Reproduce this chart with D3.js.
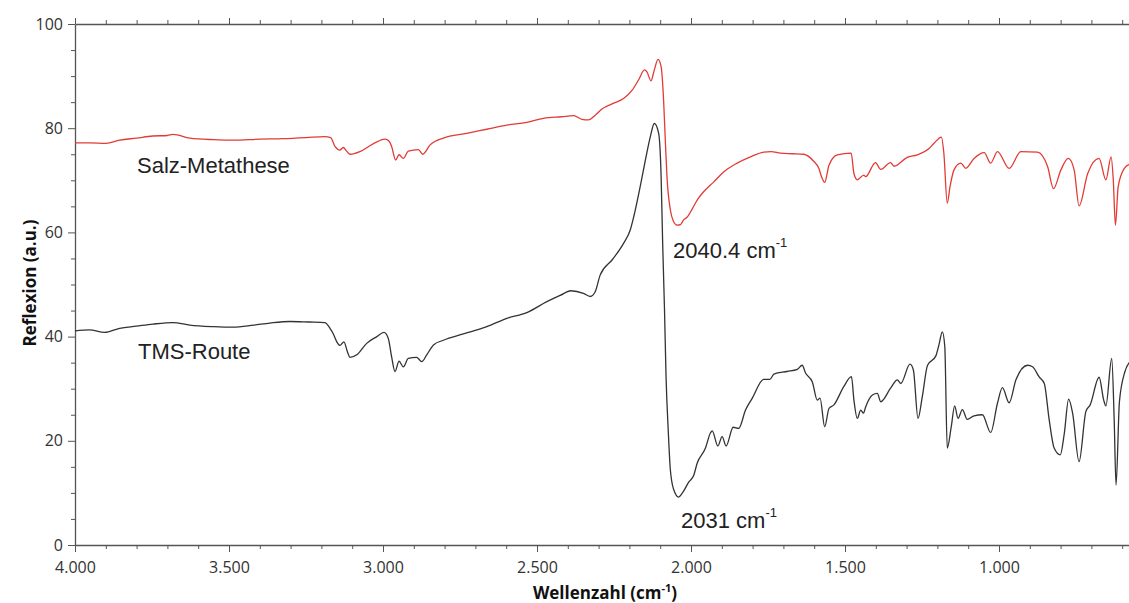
<!DOCTYPE html>
<html>
<head>
<meta charset="utf-8">
<script src="https://cdn.jsdelivr.net/npm/d3@7"></script>
<style>
  html, body { margin: 0; padding: 0; background: #fff; }
  svg { display: block; }
</style>
</head>
<body>
<svg id="chart" width="1129" height="603"></svg>
<script>
// ---- Data ----
const salzWavenumber = [4000,3950,3900,3855,3800,3748,3700,3682,3627,3550,3487,3400,3325,3250,3189,3170,3156,3140,3129,3118,3107,3075,3032,2993,2980,2972,2959,2948,2934,2918,2885,2871,2847,2804,2728,2663,2598,2533,2479,2420,2381,2354,2333,2311,2289,2251,2219,2191,2170,2151,2143,2130,2119,2107,2097,2089,2083,2078,2067,2058,2045,2034,2024,2013,1995,1980,1959,1937,1926,1894,1850,1807,1764,1740,1709,1670,1634,1601,1585,1575,1566,1552,1525,1480,1471,1460,1439,1433,1401,1384,1352,1341,1298,1265,1227,1211,1187,1179,1168,1159,1146,1124,1108,1081,1048,1027,1005,967,929,875,842,823,799,775,756,740,712,675,653,636,629,622,613,593,575];
const salzReflexion = [77.2,77.2,77.1,77.7,78.1,78.5,78.6,78.8,78.1,77.8,77.7,77.9,78.0,78.2,78.4,78.2,76.5,75.8,76.3,75.6,75.0,75.5,77.0,77.9,77.5,76.5,73.9,74.9,74.2,75.6,75.9,75.0,76.8,78.1,79.0,79.8,80.6,81.1,81.9,82.2,82.4,81.7,81.6,82.5,83.7,84.8,85.7,87.3,89.3,91.2,90.8,89.1,91.2,93.2,91.8,85.4,77.1,70.7,64.3,62.3,61.4,61.5,62.4,62.9,64.6,66.2,67.8,69.1,69.7,71.6,73.3,74.5,75.4,75.5,75.2,75.1,75.0,73.6,72.3,70.5,69.6,72.9,74.9,75.2,71.3,70.1,71.0,70.7,73.4,72.1,73.4,72.7,74.4,74.9,76.1,77.1,78.3,75.2,65.6,68.8,72.0,73.3,72.3,74.2,75.3,73.3,75.5,72.3,75.5,75.4,72.6,68.4,72.0,74.2,72.0,65.1,71.3,74.2,70.1,74.5,70.1,61.4,68.8,72.3,73.1];

const tmsWavenumber = [4000,3953,3904,3855,3801,3747,3682,3627,3550,3487,3420,3367,3302,3240,3189,3172,3162,3150,3140,3127,3115,3107,3085,3053,3020,2997,2983,2972,2961,2948,2934,2918,2891,2874,2858,2836,2804,2739,2663,2598,2533,2468,2425,2390,2349,2327,2311,2295,2255,2219,2197,2186,2165,2148,2132,2119,2105,2097,2092,2086,2081,2074,2067,2056,2040,2029,2007,1991,1980,1953,1937,1931,1913,1899,1886,1863,1845,1823,1801,1764,1744,1731,1688,1655,1639,1628,1606,1590,1581,1566,1552,1536,1504,1479,1471,1460,1449,1440,1433,1411,1395,1384,1352,1330,1319,1289,1278,1263,1249,1232,1205,1195,1184,1176,1168,1155,1144,1133,1119,1103,1081,1054,1027,1005,989,967,945,907,891,869,853,837,821,801,788,774,761,740,718,704,675,660,653,634,626,620,609,591,575];
const tmsReflexion = [41.1,41.3,40.8,41.6,42.0,42.4,42.7,42.2,41.9,41.8,42.2,42.6,42.9,42.8,42.7,41.6,40.6,39.0,38.3,39.0,37.0,36.0,36.5,38.7,40.0,40.8,39.7,36.1,33.3,35.3,34.2,35.8,36.0,35.2,36.5,38.4,39.3,40.5,41.9,43.5,44.6,46.7,47.9,48.8,48.3,47.7,48.6,51.8,54.8,57.9,60.5,63.0,68.8,73.9,78.4,80.9,79.0,70.7,57.9,45.1,32.3,22.1,14.4,10.6,9.2,9.9,12.1,13.4,15.7,18.6,21.5,21.9,19.0,20.8,19.0,22.6,22.4,25.9,28.2,31.8,31.8,32.8,33.3,33.7,34.5,33.0,31.3,27.8,28.2,22.7,26.2,26.9,30.4,32.3,27.8,24.3,25.9,25.3,26.5,28.8,29.1,27.5,30.1,31.7,31.0,34.7,33.6,24.3,28.5,34.5,36.3,38.4,40.9,38.1,18.6,22.7,26.7,24.3,26.0,24.1,24.8,25.0,21.6,27.2,30.2,27.3,31.7,34.5,34.2,32.2,31.0,24.0,18.6,17.3,21.4,28.0,25.3,16.0,25.6,26.9,32.2,27.8,26.7,35.8,24.0,11.5,27.5,33.3,35.2];

const xMajorTicks = [4000,3500,3000,2500,2000,1500,1000];
const xMinorTicks = d3.range(4000, 550, -100).filter(v => v % 500 !== 0);
const yMajorTicks = [0,20,40,60,80,100];
const yMinorTicks = d3.range(0, 101, 5).filter(v => v % 20 !== 0);

const seriesLabels = ["Salz-Metathese", "TMS-Route"];
const peakLabels = ["2040.4 cm", "2031 cm"];
const xTitle = "Wellenzahl (cm";
const yTitle = "Reflexion (a.u.)";

// ---- Layout ----
const svg = d3.select("#chart");
const x = d3.scaleLinear().domain([4000, 500]).range([75, 75 + 3500 * 0.308]);
const y = d3.scaleLinear().domain([0, 100]).range([545, 24]);

const de = d3.formatLocale({decimal: ",", thousands: ".", grouping: [3], currency: ["", "€"]});
const fmt = de.format(",d");

const axisColor = "#555";
const labelFont = "'Open Sans', 'Noto Sans', sans-serif";
const annotFont = "'Liberation Sans', Arial, sans-serif";

function styleAxis(g) {
  g.selectAll("path.domain").attr("stroke", axisColor).attr("stroke-width", 1.3);
  g.selectAll(".tick line").attr("stroke", axisColor).attr("stroke-width", 1);
  g.selectAll(".tick text").attr("fill", "#333").attr("font-family", labelFont).attr("font-size", 16);
}

// bottom axis
const gxMinor = svg.append("g").attr("transform", `translate(0,${y(0)})`)
  .call(d3.axisBottom(x).tickValues(xMinorTicks).tickSize(4).tickFormat("").tickSizeOuter(0));
styleAxis(gxMinor); gxMinor.select("path.domain").remove();
const gx = svg.append("g").attr("transform", `translate(0,${y(0)})`)
  .call(d3.axisBottom(x).tickValues(xMajorTicks).tickSize(7).tickPadding(10).tickFormat(fmt).tickSizeOuter(0));
styleAxis(gx);

// top axis (mirror, no labels)
const gtMinor = svg.append("g").attr("transform", `translate(0,${y(100)})`)
  .call(d3.axisTop(x).tickValues(xMinorTicks).tickSize(4).tickFormat("").tickSizeOuter(0));
styleAxis(gtMinor); gtMinor.select("path.domain").remove();
const gt = svg.append("g").attr("transform", `translate(0,${y(100)})`)
  .call(d3.axisTop(x).tickValues(xMajorTicks).tickSize(6).tickFormat("").tickSizeOuter(0));
styleAxis(gt);

// left axis
const gyMinor = svg.append("g").attr("transform", `translate(${x(4000)},0)`)
  .call(d3.axisLeft(y).tickValues(yMinorTicks).tickSize(4).tickFormat("").tickSizeOuter(0));
styleAxis(gyMinor); gyMinor.select("path.domain").remove();
const gy = svg.append("g").attr("transform", `translate(${x(4000)},0)`)
  .call(d3.axisLeft(y).tickValues(yMajorTicks).tickSize(7).tickPadding(5).tickFormat(d3.format("d")).tickSizeOuter(0));
styleAxis(gy);

// lines
const line = d3.line().x(d => x(d[0])).y(d => y(d[1])).curve(d3.curveMonotoneX);
const salz = salzWavenumber.map((w, i) => [w, salzReflexion[i]]);
const tms = tmsWavenumber.map((w, i) => [w, tmsReflexion[i]]);

svg.append("path").datum(salz).attr("d", line)
  .attr("fill", "none").attr("stroke", "#e23b35").attr("stroke-width", 1.3).attr("stroke-linejoin", "round");
svg.append("path").datum(tms).attr("d", line)
  .attr("fill", "none").attr("stroke", "#333").attr("stroke-width", 1.3).attr("stroke-linejoin", "round");

// series labels
svg.append("text").attr("x", 137).attr("y", 173).text(seriesLabels[0])
  .attr("font-family", annotFont).attr("font-size", 22).attr("fill", "#222");
svg.append("text").attr("x", 138).attr("y", 359).text(seriesLabels[1])
  .attr("font-family", annotFont).attr("font-size", 22).attr("fill", "#222");

// peak labels
function peakLabel(px, py, txt) {
  const t = svg.append("text").attr("x", px).attr("y", py)
    .attr("font-family", annotFont).attr("font-size", 22).attr("fill", "#222");
  t.append("tspan").text(txt);
  t.append("tspan").attr("dy", -11).attr("font-size", 13).text("-1");
}
peakLabel(673, 258, peakLabels[0]);
peakLabel(681, 528, peakLabels[1]);

// axis titles
const xt = svg.append("text").attr("x", 605).attr("y", 599).attr("text-anchor", "middle")
  .attr("font-family", labelFont).attr("font-weight", "bold").attr("font-size", 17).attr("fill", "#111");
xt.append("tspan").text(xTitle);
xt.append("tspan").attr("dy", -7).attr("font-size", 11).text("-1");
xt.append("tspan").attr("dy", 7).text(")");

svg.append("text").attr("transform", "translate(36,283) rotate(-90)").attr("text-anchor", "middle")
  .attr("font-family", labelFont).attr("font-weight", "bold").attr("font-size", 17).attr("fill", "#111")
  .text(yTitle);
</script>
</body>
</html>
